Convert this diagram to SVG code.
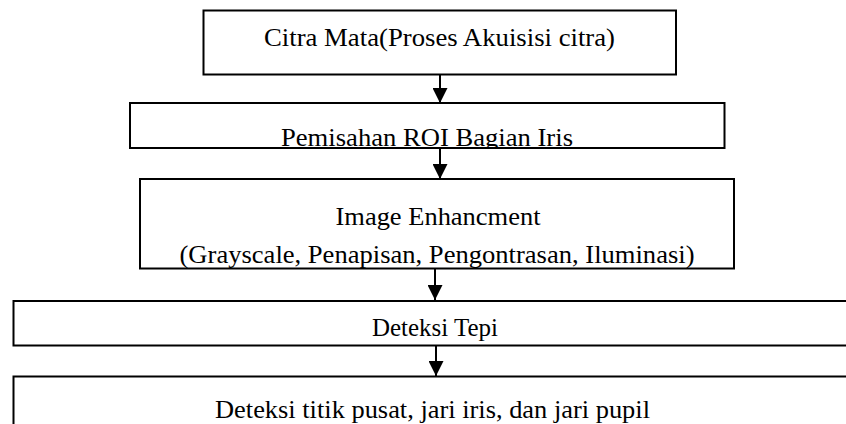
<svg xmlns="http://www.w3.org/2000/svg" width="846" height="424" viewBox="0 0 846 424">
<style>
.box{fill:#fff;stroke:#000;stroke-width:2}
.t{font-family:"Liberation Serif","Times New Roman",serif;font-size:26px;fill:#000;text-anchor:middle}
.c{stroke:#000;stroke-width:2;fill:none;marker-end:url(#ah)}
</style>
<defs>
<marker id="ah" markerUnits="userSpaceOnUse" markerWidth="15" markerHeight="15" refX="15" refY="7.5" orient="auto">
<path d="M0,0 L15,7.5 L0,15 z" fill="#000"/>
</marker>
<clipPath id="c2"><rect x="130" y="103" width="594.5" height="44"/></clipPath>
<clipPath id="c4"><rect x="13.5" y="301" width="900" height="44"/></clipPath>
</defs>
<rect width="846" height="424" fill="#fff"/>
<g id="n1">
<rect class="box" x="203.5" y="10.5" width="472.5" height="64"/>
<text class="t" x="439.5" y="46" textLength="351" lengthAdjust="spacingAndGlyphs">Citra Mata(Proses Akuisisi citra)</text>
</g>
<g id="n2">
<rect class="box" x="130" y="103" width="594.5" height="45"/>
<text class="t" x="427" y="146" textLength="292" lengthAdjust="spacingAndGlyphs" clip-path="url(#c2)">Pemisahan ROI Bagian Iris</text>
</g>
<g id="n3">
<rect class="box" x="140" y="179" width="594" height="89.5"/>
<text class="t" x="438" y="225" textLength="205" lengthAdjust="spacingAndGlyphs">Image Enhancment</text>
<text class="t" x="437" y="263" textLength="515" lengthAdjust="spacingAndGlyphs">(Grayscale, Penapisan, Pengontrasan, Iluminasi)</text>
</g>
<g id="n4">
<rect class="box" x="13.5" y="301" width="900" height="44.5"/>
<text class="t" x="435" y="336" textLength="126" lengthAdjust="spacingAndGlyphs" clip-path="url(#c4)">Deteksi Tepi</text>
</g>
<g id="n5">
<rect class="box" x="13.5" y="376.5" width="900" height="100"/>
<text class="t" x="432.5" y="418" textLength="435" lengthAdjust="spacingAndGlyphs">Deteksi titik pusat, jari iris, dan jari pupil</text>
</g>
<g id="connectors">
<line class="c" x1="440" y1="74.5" x2="440" y2="103"/>
<line class="c" x1="440" y1="148" x2="440" y2="179"/>
<line class="c" x1="435" y1="268.5" x2="435" y2="300"/>
<line class="c" x1="436" y1="345.5" x2="436" y2="376"/>
</g>
</svg>
